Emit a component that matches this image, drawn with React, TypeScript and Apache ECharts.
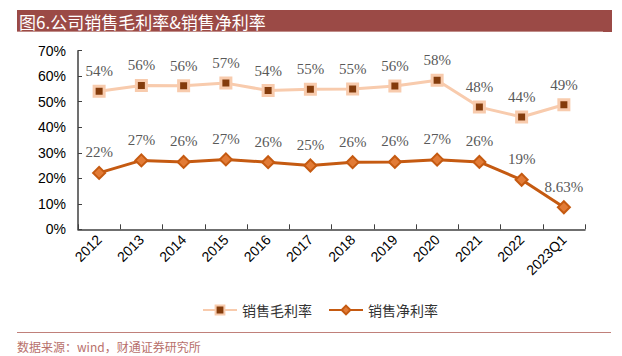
import React, { useEffect, useRef } from "react";
import * as echarts from "echarts";

const categories = ["2012", "2013", "2014", "2015", "2016", "2017", "2018", "2019", "2020", "2021", "2022", "2023Q1"];
const grossMargin = [54.1, 56.4, 56.3, 57.3, 54.4, 54.9, 55.0, 56.2, 58.4, 47.9, 44.0, 48.8];
const netMargin = [22.1, 27.0, 26.4, 27.4, 26.3, 25.0, 26.3, 26.4, 27.3, 26.4, 19.4, 8.63];
const seriesNames = ["销售毛利率", "销售净利率"];
const titleText = "图6.公司销售毛利率&销售净利率";
const sourceText = "数据来源：wind，财通证券研究所";

const fmt = (v: number) => (v >= 10 ? Math.round(v) + "%" : v.toFixed(2) + "%");

export default function App() {
  const ref = useRef<HTMLDivElement>(null);
  useEffect(() => {
    if (!ref.current) return;
    const chart = echarts.init(ref.current, null, { renderer: "svg" });
    const labelStyle = {
      show: true,
      position: "top" as const,
      distance: 6,
      color: "#595959",
      fontFamily: "Liberation Serif",
      fontSize: 15,
      formatter: (p: any) => fmt(p.value),
    };
    chart.setOption({
      animation: false,
      backgroundColor: "#ffffff",
      grid: { left: 78, right: 37, top: 50.7, bottom: 126.7, containLabel: false },
      legend: {
        data: seriesNames,
        left: 197,
        top: 298,
        itemWidth: 34,
        itemHeight: 11,
        itemGap: 16,
        textStyle: { fontFamily: "Noto Sans CJK SC", fontSize: 14, color: "#333", padding: [0, 0, 0, 0] },
      },
      xAxis: {
        type: "category",
        data: categories,
        boundaryGap: true,
        axisLine: { lineStyle: { color: "#404040", width: 1.5 } },
        axisTick: { show: true, inside: true, length: 5, lineStyle: { color: "#404040" } },
        axisLabel: { rotate: 45, color: "#000", fontFamily: "Liberation Sans", fontSize: 14, margin: 8, interval: 0 },
      },
      yAxis: {
        type: "value",
        min: 0,
        max: 70,
        interval: 10,
        axisLine: { show: true, lineStyle: { color: "#404040", width: 1.5 } },
        axisTick: { show: true, inside: true, length: 4, lineStyle: { color: "#404040" } },
        splitLine: { show: false },
        axisLabel: { color: "#000", fontFamily: "Liberation Sans", fontSize: 14, margin: 12, formatter: "{value}%" },
      },
      series: [
        {
          name: seriesNames[0],
          type: "line",
          data: grossMargin,
          lineStyle: { color: "#F8CBAD", width: 3 },
          symbol: "rect",
          symbolSize: 10,
          itemStyle: { color: "#843C0C", borderColor: "#F8CBAD", borderWidth: 3 },
          label: labelStyle,
        },
        {
          name: seriesNames[1],
          type: "line",
          data: netMargin,
          lineStyle: { color: "#C55A11", width: 3 },
          symbol: "diamond",
          symbolSize: 12,
          itemStyle: { color: "#E27B36", borderColor: "#C55A11", borderWidth: 2 },
          label: labelStyle,
        },
      ],
      graphic: [
        { type: "rect", shape: { x: 17, y: 10, width: 595, height: 22 }, style: { fill: "#9B4A46" } },
        { type: "line", shape: { x1: 17, y1: 31.5, x2: 603, y2: 31.5 }, style: { stroke: "#C08C88", lineWidth: 1 } },
        {
          type: "text",
          x: 19,
          y: 21,
          style: { text: titleText, fill: "#ffffff", font: "17px 'Noto Sans CJK SC'", textVerticalAlign: "middle" },
        },
        { type: "line", shape: { x1: 17, y1: 332.5, x2: 611, y2: 332.5 }, style: { stroke: "#C0807A", lineWidth: 1 } },
        {
          type: "text",
          x: 17,
          y: 346,
          style: { text: sourceText, fill: "#B8706B", font: "12px 'Noto Sans CJK SC'", textVerticalAlign: "middle" },
        },
      ],
    });
    return () => chart.dispose();
  }, []);
  return <div ref={ref} style={{ width: 622, height: 356, position: "absolute", left: 0, top: 0 }} />;
}
